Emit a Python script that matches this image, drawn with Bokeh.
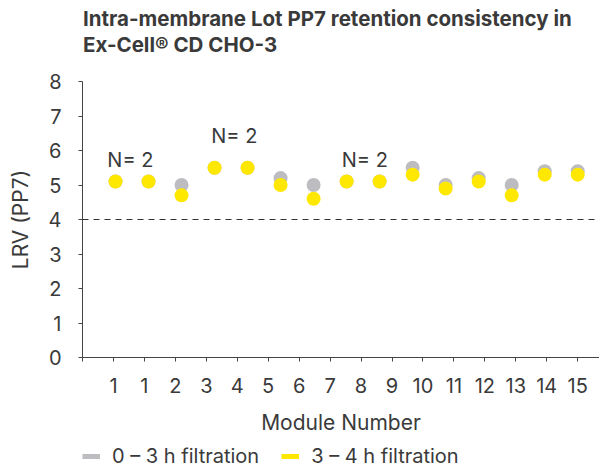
import numpy as np
from bokeh.plotting import figure
from bokeh.layouts import column
from bokeh.models import (Range1d, FixedTicker, Span, Legend, LegendItem,
                          ColumnDataSource)
from bokeh.core.properties import value
from bokeh.embed import file_html
from bokeh.resources import INLINE

# ---- data ----
modules = list(range(1, 16))  # plotted module slots
lrv_0_3h = [5.1, 5.1, 5.0, 5.5, 5.5, 5.2, 5.0, 5.1, 5.1, 5.5, 5.0, 5.2, 5.0, 5.4, 5.4]
lrv_3_4h = [5.1, 5.1, 4.7, 5.5, 5.5, 5.0, 4.6, 5.1, 5.1, 5.3, 4.9, 5.1, 4.7, 5.3, 5.3]
tick_labels = ["1", "1", "2", "3", "4", "5", "6", "7", "8", "9", "10", "11", "12", "13", "14", "15"]
ann_x = [1.45, 4.6, 8.55]
ann_y = [5.72, 6.42, 5.72]
ann_text = ["N= 2", "N= 2", "N= 2"]
threshold = 4
y_ticks = [0, 1, 2, 3, 4, 5, 6, 7, 8]

title_lines = ["Intra-membrane Lot PP7 retention consistency in", "Ex-Cell® CD CHO-3"]
series_names = ["0 – 3 h filtration", "3 – 4 h filtration"]

FONT = "Inter"
TXT = "#3a3a3a"
GRAY = "#bdbdc1"
YELLOW = "#ffe800"
LEFT = 82
FW = 517


def strip(height):
    f = figure(frame_width=FW, frame_height=height, output_backend="svg",
               toolbar_location=None, x_range=Range1d(0, FW), y_range=Range1d(height, 0),
               x_axis_type=None, y_axis_type=None,
               min_border_left=LEFT, min_border_right=0, min_border_top=0, min_border_bottom=0)
    f.outline_line_color = None
    f.xgrid.visible = False
    f.ygrid.visible = False
    return f


# ---- title strip ----
ts = strip(69)
ts.text(x=[0.5, 0.5], y=[18, 44], text=title_lines, text_font=value(FONT),
        text_font_size="20.5px", text_font_style="bold", text_color=TXT,
        text_align="left", text_baseline="middle")

# ---- main chart ----
p = figure(frame_width=FW, frame_height=276, output_backend="svg", toolbar_location=None,
           x_range=Range1d(0, 15.66), y_range=Range1d(0, 8),
           min_border_left=LEFT, min_border_right=0, min_border_top=12, min_border_bottom=86)
p.outline_line_color = None
p.xgrid.visible = False
p.ygrid.visible = False

p.add_layout(Span(location=threshold, dimension="width", line_color="#333333",
                  line_width=1.2, line_dash="6 5"))

src = ColumnDataSource(dict(x=modules, g=lrv_0_3h, y=lrv_3_4h))
p.scatter("x", "g", source=src, size=14, fill_color=GRAY, line_color=None)
p.scatter("x", "y", source=src, size=14, fill_color=YELLOW, line_color=None)

p.text(x=ann_x, y=ann_y, text=ann_text, text_font=value(FONT), text_font_size="20px",
       text_color=TXT, text_align="center", text_baseline="middle")

n = len(tick_labels)
tick_pos = list(np.linspace(0, 15, n + 1))
overrides = {tick_pos[0]: ""}
for pos, lab in zip(tick_pos[1:], tick_labels):
    overrides[pos] = lab
xa = p.xaxis[0]
xa.ticker = FixedTicker(ticks=tick_pos)
xa.major_label_overrides = overrides
xa.axis_label = "Module Number"
ya = p.yaxis[0]
ya.ticker = FixedTicker(ticks=y_ticks)
ya.axis_label = "LRV (PP7)"
for ax in (xa, ya):
    ax.minor_tick_line_color = None
    ax.major_tick_in = 0
    ax.major_tick_out = 4
    ax.axis_line_color = "#444444"
    ax.major_tick_line_color = "#444444"
    ax.major_label_text_font = FONT
    ax.major_label_text_font_size = "20px"
    ax.major_label_text_color = TXT
    ax.axis_label_text_font = FONT
    ax.axis_label_text_font_size = "21px"
    ax.axis_label_text_font_style = "normal"
    ax.axis_label_text_color = TXT
xa.major_label_standoff = 16
xa.axis_label_standoff = 14
ya.major_label_standoff = 17
ya.axis_label_standoff = 13

# ---- legend strip ----
ls = strip(25)
rg = ls.line(x=[-50, -50], y=[-50, -50], line_color=GRAY, line_width=5)
ry = ls.line(x=[-50, -50], y=[-50, -50], line_color=YELLOW, line_width=5)
legend = Legend(items=[LegendItem(label=series_names[0], renderers=[rg]),
                       LegendItem(label=series_names[1], renderers=[ry])],
                orientation="horizontal", location=(0, 0),
                glyph_width=18, glyph_height=20, label_standoff=12, spacing=22,
                padding=0, margin=0, border_line_color=None, background_fill_alpha=0,
                label_text_font=FONT, label_text_font_size="20px", label_text_color=TXT)
ls.add_layout(legend)

layout = column(ts, p, ls, spacing=0)
open("out.html", "w").write(file_html(layout, INLINE))
